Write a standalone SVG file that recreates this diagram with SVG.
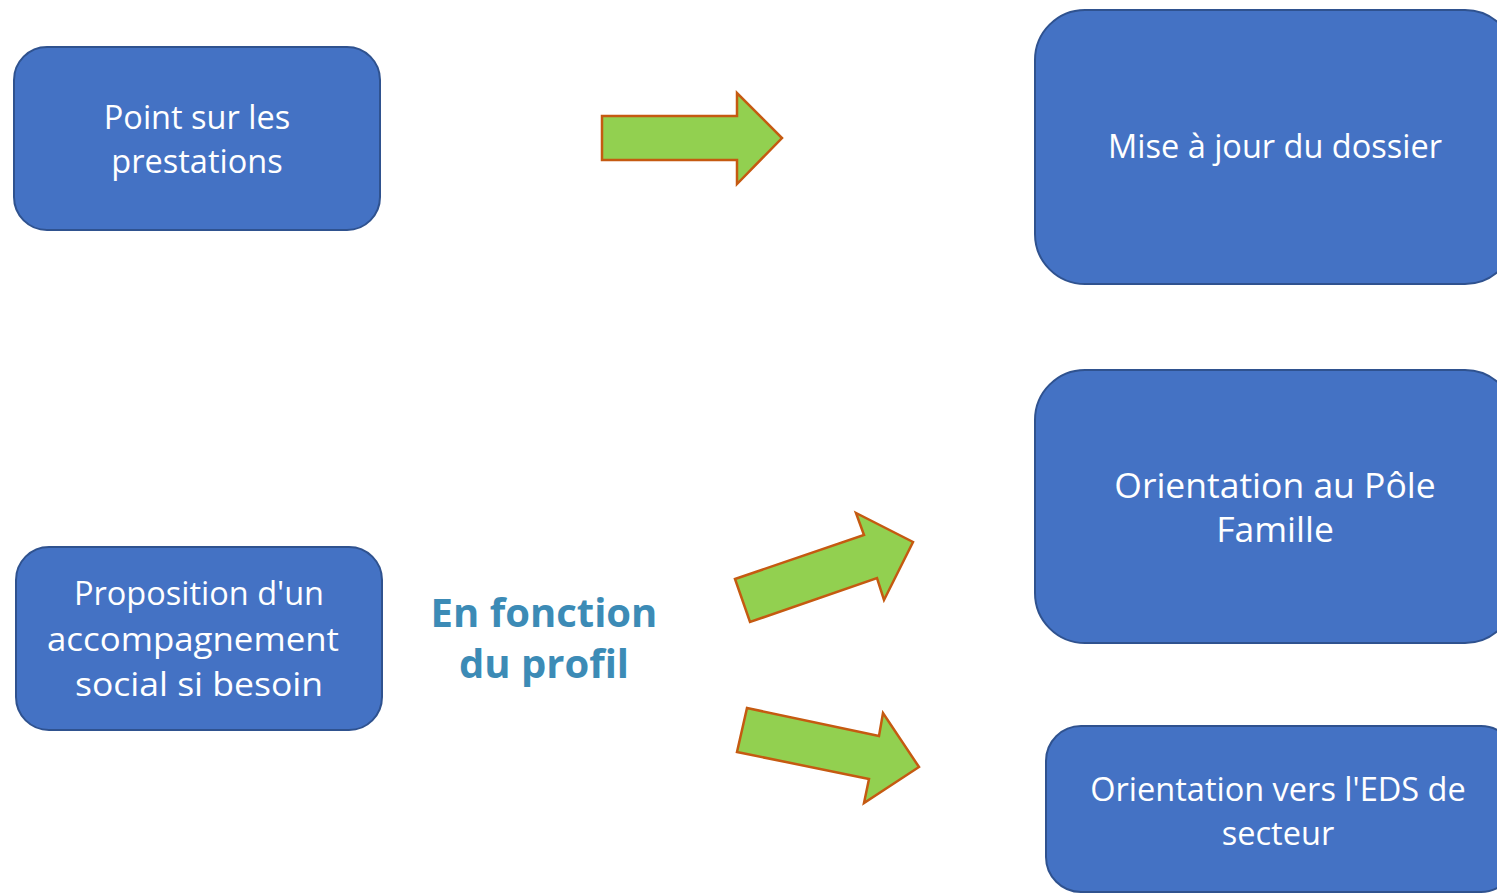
<svg xmlns="http://www.w3.org/2000/svg" width="1497" height="894" viewBox="0 0 1497 894">
<style>
.box{fill:#4472C4;stroke:#2F528F;stroke-width:2}
.lbl{font-family:"Open Sans","Noto Sans",sans-serif;font-size:32.5px;fill:#ffffff;text-anchor:middle}
.big{font-size:35.5px}
.arr{fill:#92D050;stroke:#C55A11;stroke-width:2.5;stroke-linejoin:miter}
.note{font-family:"Open Sans","Noto Sans",sans-serif;font-size:40px;font-weight:bold;fill:#3C8BB6;text-anchor:middle}
</style>
<rect width="1497" height="894" fill="#ffffff"/>
<g id="n1">
<rect class="box" x="14" y="47" width="366" height="183" rx="33"/>
<text class="lbl" x="197" y="129">Point sur les</text>
<text class="lbl" x="197" y="173">prestations</text>
</g>
<g id="n2">
<rect class="box" x="1035" y="10" width="480" height="274" rx="50"/>
<text class="lbl" x="1275" y="158">Mise à jour du dossier</text>
</g>
<g id="n3">
<rect class="box" x="1035" y="370" width="480" height="273" rx="50"/>
<text class="lbl big" x="1275" y="498">Orientation au Pôle</text>
<text class="lbl big" x="1275" y="542">Famille</text>
</g>
<g id="n4">
<rect class="box" x="16" y="547" width="366" height="183" rx="33"/>
<text class="lbl" x="199" y="605">Proposition d'un</text>
<text class="lbl" x="193" y="651" textLength="292" lengthAdjust="spacingAndGlyphs">accompagnement</text>
<text class="lbl" x="199" y="696" textLength="248" lengthAdjust="spacingAndGlyphs">social si besoin</text>
</g>
<g id="n5">
<rect class="box" x="1046" y="726" width="470" height="166" rx="35"/>
<text class="lbl" x="1278" y="801">Orientation vers l'EDS de</text>
<text class="lbl" x="1278" y="845">secteur</text>
</g>
<g id="note">
<text class="note" x="544" y="627">En fonction</text>
<text class="note" x="544" y="678">du profil</text>
</g>
<g id="connectors">
<polygon class="arr" points="602,116 737,116 737,93 782,138 737,184 737,160 602,160"/>
<polygon class="arr" points="735,579 864,535 856,513 913,542 884,600 877,578 750,622"/>
<polygon class="arr" points="747,708 879,736 883,713 919,767 864,803 869,779 737,752"/>
</g>
</svg>
